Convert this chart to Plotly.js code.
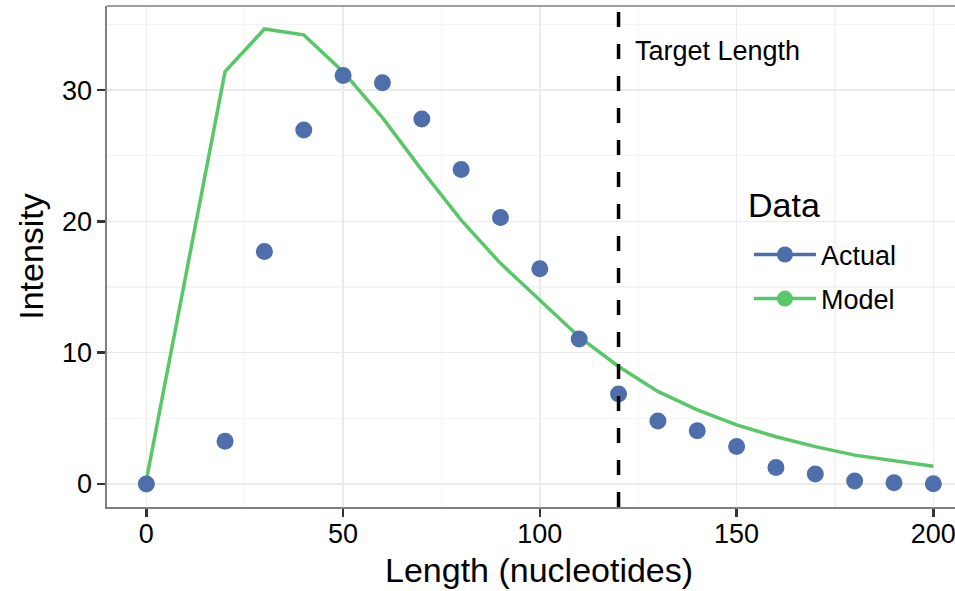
<!DOCTYPE html>
<html>
<head>
<meta charset="utf-8">
<script src="https://cdn.plot.ly/plotly-3.0.1.min.js"></script>
<style>
html,body{margin:0;padding:0;overflow:hidden;background:#fff;}
#chart{width:955px;height:591px;}
</style>
</head>
<body>
<div id="chart"></div>
<script>
// Data
var lengths = [0, 20, 30, 40, 50, 60, 70, 80, 90, 100, 110, 120, 130, 140, 150, 160, 170, 180, 190, 200];
var actual  = [0, 3.25, 17.7, 26.95, 31.1, 30.55, 27.8, 23.95, 20.3, 16.4, 11.05, 6.85, 4.8, 4.05, 2.85, 1.25, 0.77, 0.23, 0.1, 0.02];
var model   = [0.3, 31.4, 34.65, 34.2, 31.4, 27.9, 23.9, 20.1, 16.8, 14.0, 11.2, 8.95, 7.05, 5.65, 4.5, 3.6, 2.85, 2.2, 1.75, 1.35];
var targetLength = 120;
var xTicks = [0, 50, 100, 150, 200];
var yTicks = [0, 10, 20, 30];
var seriesNames = ["Actual", "Model"];

var BLUE = "#4E6FAB";
var GREEN = "#58C767";
var FONT = "Liberation Sans, Arial, Helvetica, sans-serif";

var traces = [
  {x: lengths, y: model, mode: "lines", name: seriesNames[1], showlegend: false,
   line: {color: GREEN, width: 3.5}, hoverinfo: "x+y"},
  {x: lengths, y: actual, mode: "markers", name: seriesNames[0], showlegend: false,
   marker: {color: BLUE, size: 17}, hoverinfo: "x+y"},
  // legend entries (combined line + point keys, as in the original legend)
  {x: [null], y: [null], mode: "lines+markers", name: seriesNames[0], legendgroup: "a",
   line: {color: BLUE, width: 3.5}, marker: {color: BLUE, size: 17}},
  {x: [null], y: [null], mode: "lines+markers", name: seriesNames[1], legendgroup: "m",
   line: {color: GREEN, width: 3.5}, marker: {color: GREEN, size: 17}}
];

var layout = {
  width: 955, height: 591,
  margin: {l: 107, r: 0, t: 6, b: 84},
  paper_bgcolor: "#ffffff",
  plot_bgcolor: "#ffffff",
  font: {family: FONT, color: "#000000"},
  showlegend: true,
  legend: {
    x: 0.757, xanchor: "left", y: 0.552, yanchor: "top",
    bgcolor: "rgba(255,255,255,0)",
    font: {size: 27, family: FONT, color: "#000"},
    traceorder: "grouped", tracegroupgap: 6,
    itemwidth: 62
  },
  xaxis: {
    range: [-10, 205.5],
    tickvals: xTicks, ticktext: xTicks.map(String),
    ticks: "outside", ticklen: 8, tickwidth: 2.5, tickcolor: "#333333",
    tickfont: {size: 27, family: FONT, color: "#000"},
    ticklabeloverflow: "allow",
    ticklabelstandoff: -6,
    showgrid: true, gridcolor: "#EBEBEB", gridwidth: 1.6,
    minor: {dtick: 25, tick0: 25, showgrid: true, gridcolor: "#F4F4F4", gridwidth: 1.2, ticks: ""},
    zeroline: false,
    showline: true, linecolor: "#7F7F7F", linewidth: 1.6, mirror: false
  },
  yaxis: {
    range: [-1.75, 36.4],
    tickvals: yTicks, ticktext: yTicks.map(String),
    ticks: "outside", ticklen: 8, tickwidth: 2.5, tickcolor: "#333333",
    tickfont: {size: 27, family: FONT, color: "#000"},
    showgrid: true, gridcolor: "#EBEBEB", gridwidth: 1.6,
    minor: {dtick: 10, tick0: 5, showgrid: true, gridcolor: "#F4F4F4", gridwidth: 1.2, ticks: ""},
    zeroline: false,
    showline: true, linecolor: "#7F7F7F", linewidth: 1.6, mirror: false,
    title: {text: "Intensity", font: {size: 34, family: FONT, color: "#000"}, standoff: 8}
  },
  shapes: [
    {type: "line", xref: "paper", yref: "paper", x0: 0, x1: 1, y0: 1, y1: 1,
     line: {color: "#7F7F7F", width: 1.6}, layer: "above"},
    {type: "line", xref: "x", yref: "paper", x0: targetLength, x1: targetLength, y0: 0, y1: 1,
     line: {color: "#000000", width: 3.5, dash: "15px,17px"}, layer: "above"}
  ],
  annotations: [
    {x: targetLength, y: 33, xref: "x", yref: "y", text: "Target Length",
     showarrow: false, xanchor: "left", yanchor: "middle", xshift: 14,
     font: {size: 27, family: FONT, color: "#000"}},
    {x: 0.7535, y: 1 - (205 - 6) / 501, xref: "paper", yref: "paper", text: "Data",
     showarrow: false, xanchor: "left", yanchor: "middle",
     font: {size: 34, family: FONT, color: "#000"}},
    // x-axis title (centred on the full ggplot panel, which runs past the image edge)
    {x: (539 - 107) / 848, y: -(570 - 507) / 501, xref: "paper", yref: "paper",
     text: "Length (nucleotides)", showarrow: false, xanchor: "center", yanchor: "middle",
     font: {size: 34, family: FONT, color: "#000"}}
  ]
};

Plotly.newPlot("chart", traces, layout, {displayModeBar: false, staticPlot: true});
</script>
</body>
</html>
